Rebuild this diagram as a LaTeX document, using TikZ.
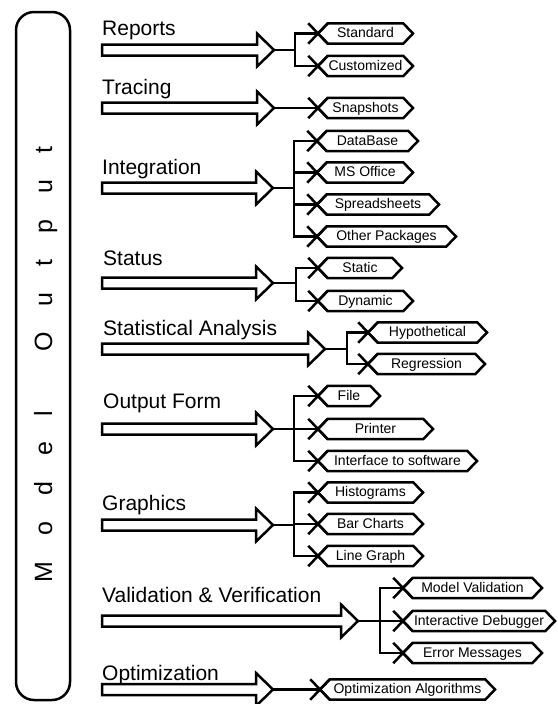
\documentclass[tikz,border=0pt]{standalone}
\usepackage{fontspec}
\setmainfont{Liberation Sans}
\usetikzlibrary{shapes.misc}
\newcommand\mytrk{\kern26pt}
\tikzset{
  ln/.style={line width=2.5pt},
  hexin/.style={rectangle, minimum height=20pt, inner sep=0pt, text height=10pt, text depth=2pt,
     font=\fontsize{14}{16}\selectfont},
  hexline/.style={ln, line join=miter},
  xmk/.style={cross out, draw, ln, minimum width=17pt, minimum height=18pt, inner sep=0pt},
  big/.style={anchor=base west, inner sep=0pt, font=\fontsize{21}{25}\selectfont},
  bigar/.style={draw, ln, line join=miter}
}
\newcommand\mkhex[5]{\node[hexin, minimum width=#4pt-20pt] (#1) at (#2,#3) {#5};
  \coordinate (#1w) at ({#2-#4/2},#3);
  \coordinate (#1e) at ({#2+#4/2},#3);
  \draw[hexline] (#1w) -- (#1.north west) -- (#1.north east) -- (#1e) -- (#1.south east) -- (#1.south west) -- cycle;
  \node[xmk] (#1x) at (#1w) {};}
\newcommand\bigarrow[3]{\draw[bigar] (102,{#2-5.5}) -- ({#1-17},{#2-5.5}) -- ({#1-17},{#2-16.5}) -- (#1,#2) -- ({#1-17},{#2+16.5}) -- ({#1-17},{#2+5.5}) -- (102,{#2+5.5}) -- cycle;
  \coordinate (#3) at (#1,#2);}
\begin{document}
\begin{tikzpicture}[x=1pt,y=-1pt]
\useasboundingbox (0,0) rectangle (557,704);
% left box
\node[draw, ln, rounded corners=18pt, minimum width=54pt, minimum height=688pt, inner sep=0pt] (box) at (43,356) {};
\node[rotate=90, anchor=base, inner sep=0pt, font=\fontsize{25}{30}\selectfont] (mo) at (52,364.5)
  {M\mytrk o\mytrk d\mytrk e\mytrk l\mytrk\ \mytrk O\mytrk u\mytrk t\mytrk p\mytrk u\mytrk t};

% labels
\node[big] (lrep) at (102,35) {Reports};
\node[big] (ltra) at (102,94) {Tracing};
\node[big] (lint) at (102,174) {Integration};
\node[big] (lsta) at (103,265) {Status};
\node[big] (lsan) at (103,335) {Statistical Analysis};
\node[big] (lout) at (103,408) {Output Form};
\node[big] (lgra) at (102,510) {Graphics};
\node[big] (lval) at (102,602) {Validation \& Verification};
\node[big] (lopt) at (102,680) {Optimization};

% big arrows
\bigarrow{274}{50}{trep}
\bigarrow{274}{108}{ttra}
\bigarrow{273}{188}{tint}
\bigarrow{273}{283}{tsta}
\bigarrow{325}{349}{tsan}
\bigarrow{273}{429}{tout}
\bigarrow{273}{525}{tgra}
\bigarrow{358}{621}{tval}
\bigarrow{273}{689.5}{topt}

% branch points
\coordinate (vrep) at (295,50);
\coordinate (vint) at (294,188);
\coordinate (vsta) at (296,283);
\coordinate (vsan) at (347,349);
\coordinate (vout) at (294,429);
\coordinate (vgra) at (294,525);
\coordinate (vval) at (380,621);

% hexagons
\mkhex{std}{365.5}{33.5}{95}{Standard}
\mkhex{cus}{365.5}{66}{95}{Customized}
\mkhex{snp}{365.5}{108}{95}{Snapshots}
\mkhex{dbs}{367.5}{141}{101}{DataBase}
\mkhex{mso}{365}{172.5}{96}{MS Office}
\mkhex{spr}{378}{204.5}{122}{Spreadsheets}
\mkhex{oth}{386.5}{236.5}{139}{Other Packages}
\mkhex{stc}{360}{268}{84}{Static}
\mkhex{dyn}{365.5}{301}{95}{Dynamic}
\mkhex{hyp}{427.5}{332.5}{119}{Hypothetical}
\mkhex{reg}{426.5}{364}{117}{Regression}
\mkhex{fil}{349}{396}{62}{File}
\mkhex{prn}{375.5}{429}{115}{Printer}
\mkhex{itf}{397.5}{461}{159}{Interface to software}
\mkhex{his}{370.5}{492.5}{105}{Histograms}
\mkhex{bar}{370.5}{524}{105}{Bar Charts}
\mkhex{lin}{370.5}{556}{105}{Line Graph}
\mkhex{mva}{472.5}{588}{139}{Model Validation}
\mkhex{idb}{479}{621}{152}{Interactive Debugger}
\mkhex{ems}{472.5}{653}{139}{Error Messages}
\mkhex{oal}{407.5}{689.5}{175}{Optimization Algorithms}

% connectors
\draw[ln] (trep) -- (vrep);
\draw[ln] (vrep) |- (stdw);
\draw[ln] (vrep) |- (cusw);
\draw[ln] (ttra) -- (snpw);
\draw[ln] (tint) -- (vint);
\draw[ln] (vint) |- (dbsw);
\draw[ln] (vint) |- (msow);
\draw[ln] (vint) |- (sprw);
\draw[ln] (vint) |- (othw);
\draw[ln] (tsta) -- (vsta);
\draw[ln] (vsta) |- (stcw);
\draw[ln] (vsta) |- (dynw);
\draw[ln] (tsan) -- (vsan);
\draw[ln] (vsan) |- (hypw);
\draw[ln] (vsan) |- (regw);
\draw[ln] (tout) -- (vout);
\draw[ln] (vout) |- (filw);
\draw[ln] (vout) |- (prnw);
\draw[ln] (vout) |- (itfw);
\draw[ln] (tgra) -- (vgra);
\draw[ln] (vgra) |- (hisw);
\draw[ln] (vgra) |- (barw);
\draw[ln] (vgra) |- (linw);
\draw[ln] (tval) -- (vval);
\draw[ln] (vval) |- (mvaw);
\draw[ln] (vval) |- (idbw);
\draw[ln] (vval) |- (emsw);
\draw[ln] (topt) -- (oalw);
\end{tikzpicture}
\end{document}
